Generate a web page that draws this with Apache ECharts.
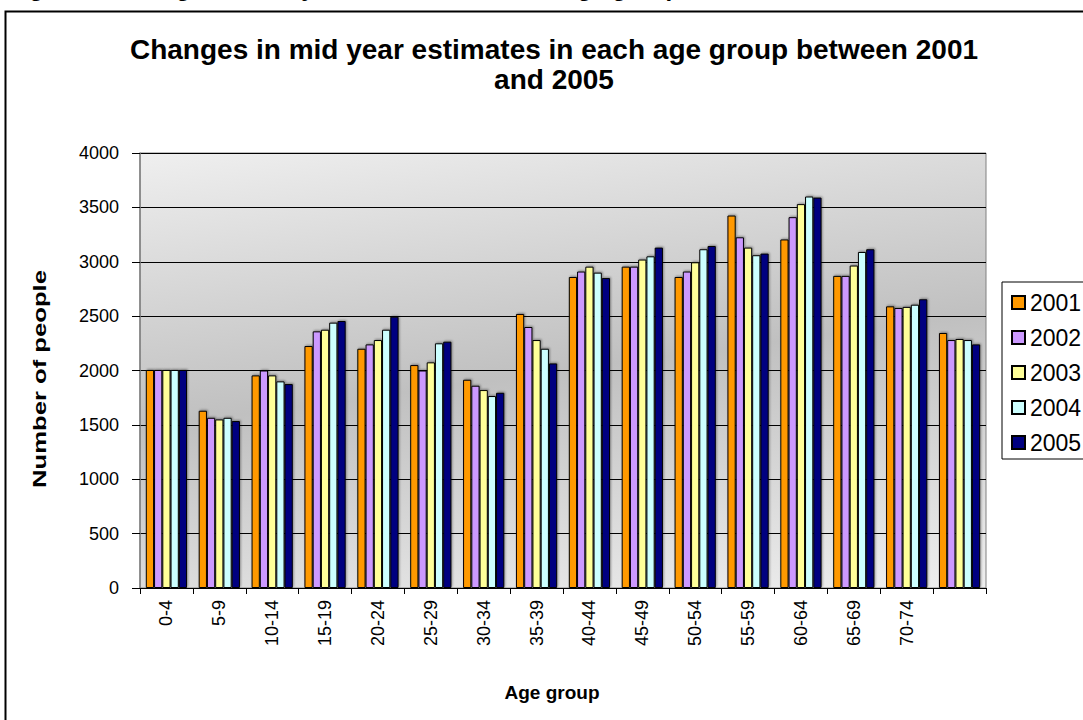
<!DOCTYPE html>
<html>
<head>
<meta charset="utf-8">
<title>Mid year estimates by age group</title>
<script src="https://cdn.jsdelivr.net/npm/echarts@6/dist/echarts.min.js"></script>
<style>
  html, body { margin: 0; padding: 0; background: #ffffff; }
  #chart { width: 1083px; height: 720px; }
</style>
</head>
<body>
<div id="chart"></div>
<script>
// Age groups along the horizontal axis (the last group carries no label)
const categories = ['0-4', '5-9', '10-14', '15-19', '20-24', '25-29', '30-34', '35-39',
  '40-44', '45-49', '50-54', '55-59', '60-64', '65-69', '70-74', ''];

// Mid year estimates, one list per year
const y2001 = [2005, 1630, 1955, 2225, 2200, 2050, 1915, 2520, 2860, 2955, 2860, 3425, 3205, 2870, 2590, 2345];
const y2002 = [2005, 1565, 2000, 2360, 2240, 2000, 1860, 2400, 2910, 2955, 2910, 3225, 3410, 2870, 2575, 2280];
const y2003 = [2005, 1550, 1955, 2375, 2280, 2075, 1820, 2280, 2955, 3020, 2995, 3130, 3530, 2965, 2585, 2290];
const y2004 = [2005, 1565, 1900, 2440, 2375, 2250, 1765, 2200, 2900, 3050, 3115, 3060, 3600, 3090, 2605, 2280];
const y2005 = [2005, 1535, 1875, 2455, 2495, 2265, 1795, 2065, 2850, 3130, 3145, 3075, 3590, 3115, 2655, 2240];

const seriesNames = ['2001', '2002', '2003', '2004', '2005'];
const seriesValues = [y2001, y2002, y2003, y2004, y2005];
const seriesColors = ['#FF9900', '#CC99FF', '#FFFF99', '#CCFFFF', '#000080'];

// Value axis ticks
const yMin = 0, yMax = 4000, yStep = 500;

const FONT = '"Liberation Sans", Arial, sans-serif';

// Plot rectangle in pixels
const grid = { left: 140, top: 153, right: 97, bottom: 132 };
const W = 1083, H = 720;
const gw = W - grid.left - grid.right;
const gh = H - grid.top - grid.bottom;

// Diagonal shading: light corners top-left and bottom-right, grey band
// running from the bottom-left corner to the top-right corner.
const k1 = (gh * gh) / (gw * gw + gh * gh);
const k2 = (gw * gw) / (gw * gw + gh * gh);
const plotFill = new echarts.graphic.LinearGradient(
  0.5 - k1, 0.5 - k2, 0.5 + k1, 0.5 + k2,
  [
    { offset: 0, color: '#ffffff' },
    { offset: 0.5, color: '#c0c0c0' },
    { offset: 1, color: '#ffffff' }
  ]
);

const chart = echarts.init(document.getElementById('chart'), null, { renderer: 'svg' });

const option = {
  backgroundColor: '#ffffff',
  animation: false,
  title: {
    text: 'Changes in mid year estimates in each age group between 2001\nand 2005',
    left: 549,
    top: 29,
    textAlign: 'center',
    textStyle: {
      fontFamily: FONT,
      fontWeight: 'bold',
      fontSize: 28,
      lineHeight: 30,
      color: '#000000'
    }
  },
  legend: {
    data: seriesNames,
    orient: 'vertical',
    left: 1002,
    top: 282,
    itemWidth: 13,
    itemHeight: 13,
    itemGap: 12,
    padding: [9, 40, 5, 9],
    backgroundColor: '#ffffff',
    borderColor: '#000000',
    borderWidth: 1,
    borderRadius: 0,
    icon: 'rect',
    textStyle: { fontFamily: FONT, fontSize: 23, color: '#000000' }
  },
  grid: {
    left: grid.left,
    top: grid.top,
    right: grid.right,
    bottom: grid.bottom,
    show: true,
    backgroundColor: plotFill,
    borderColor: '#808080',
    borderWidth: 1
  },
  xAxis: {
    type: 'category',
    data: categories,
    name: 'Age group',
    nameLocation: 'middle',
    nameGap: 95,
    nameTextStyle: {
      fontFamily: FONT, fontWeight: 'bold', fontSize: 19, color: '#000000',
      padding: [0, 22, 0, 0]
    },
    axisLine: { show: true, lineStyle: { color: '#000000', width: 1 } },
    axisTick: { show: true, length: 6, lineStyle: { color: '#000000' } },
    axisLabel: {
      rotate: 90,
      margin: 12,
      interval: 0,
      fontFamily: FONT,
      fontSize: 18,
      color: '#000000'
    },
    splitLine: { show: false }
  },
  yAxis: {
    type: 'value',
    min: yMin,
    max: yMax,
    interval: yStep,
    axisLine: { show: true, lineStyle: { color: '#808080', width: 1.5 } },
    axisTick: { show: true, length: 8, lineStyle: { color: '#000000' } },
    axisLabel: {
      margin: 21, fontFamily: FONT, fontSize: 18, color: '#000000',
      formatter: (v) => String(v)
    },
    splitLine: { show: true, lineStyle: { color: '#000000', width: 1 } }
  },
  series: seriesNames.map((name, i) => ({
    name: name,
    type: 'bar',
    data: seriesValues[i],
    barGap: '0%',
    barCategoryGap: '22%',
    itemStyle: {
      color: seriesColors[i],
      borderColor: '#000000',
      borderWidth: 1,
      shadowColor: 'rgba(0,0,0,0.35)',
      shadowBlur: 2,
      shadowOffsetX: 1,
      shadowOffsetY: -1
    }
  })),
  graphic: [
    {
      type: 'rect',
      left: 3,
      top: 9,
      shape: { width: 1200, height: 800 },
      style: { fill: 'none', stroke: '#000000', lineWidth: 2 },
      silent: true
    },
    {
      // value-axis title, set vertically and drawn a little elongated
      type: 'text',
      x: 40,
      y: 379,
      rotation: Math.PI / 2,
      scaleX: 1.35,
      style: {
        text: 'Number of people',
        fontFamily: FONT,
        fontWeight: 'bold',
        fontSize: 19,
        fill: '#000000',
        align: 'center',
        verticalAlign: 'middle'
      },
      silent: true
    },
    {
      type: 'text',
      x: 8,
      y: -13,
      style: {
        text: 'Figure 4: Changes in mid year estimates in each age group between 2001 and 2005',
        fontFamily: FONT,
        fontWeight: 'bold',
        fontSize: 24,
        fill: '#000000',
        verticalAlign: 'middle'
      },
      silent: true
    }
  ]
};

chart.setOption(option);
</script>
</body>
</html>
